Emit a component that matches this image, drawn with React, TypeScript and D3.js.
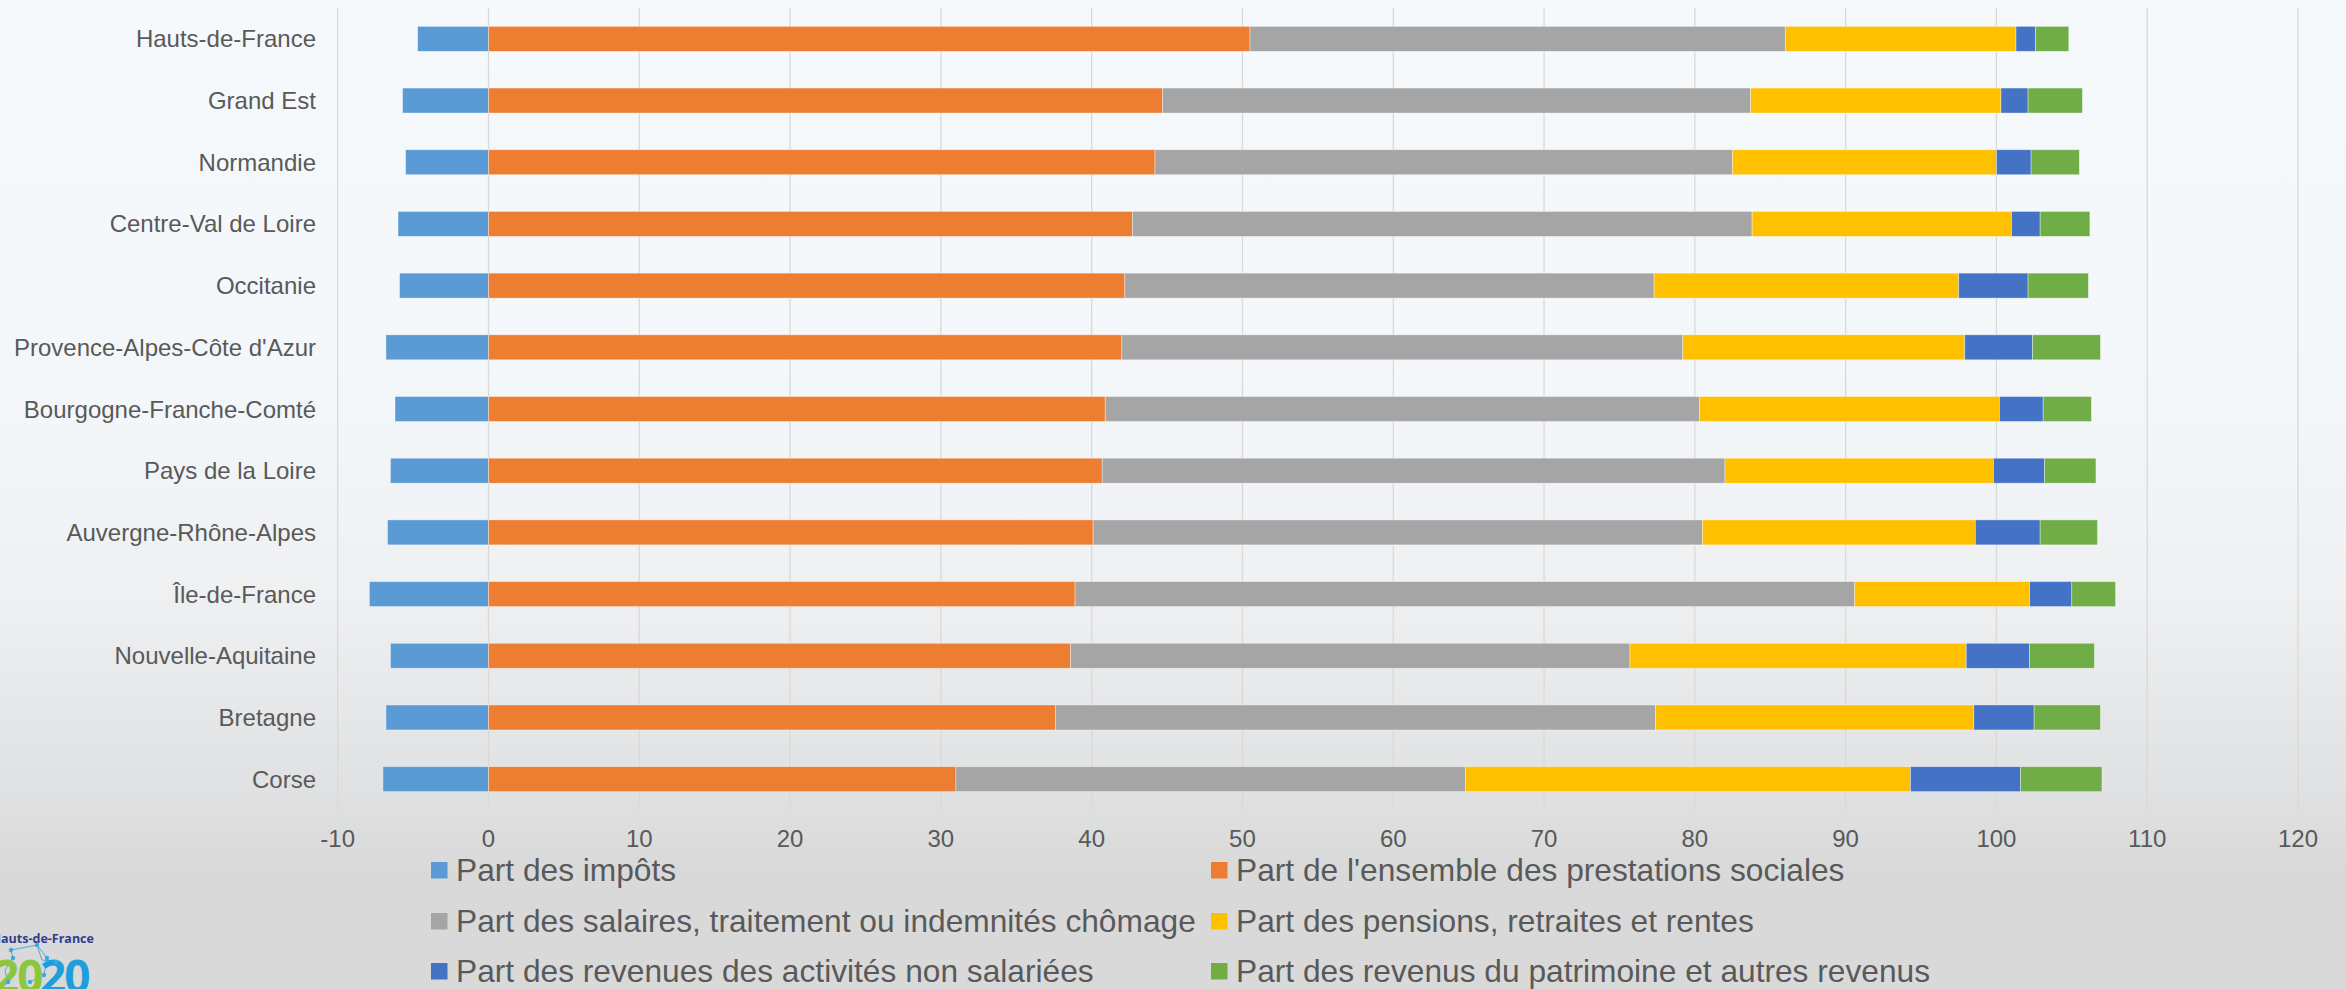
import React from "react";
import * as d3 from "d3";

const categories = [
  "Hauts-de-France",
  "Grand Est",
  "Normandie",
  "Centre-Val de Loire",
  "Occitanie",
  "Provence-Alpes-Côte d'Azur",
  "Bourgogne-Franche-Comté",
  "Pays de la Loire",
  "Auvergne-Rhône-Alpes",
  "Île-de-France",
  "Nouvelle-Aquitaine",
  "Bretagne",
  "Corse",
];

const impots = [-4.7, -5.7, -5.5, -6.0, -5.9, -6.8, -6.2, -6.5, -6.7, -7.9, -6.5, -6.8, -7.0];
const prestations = [50.5, 44.7, 44.2, 42.7, 42.2, 42.0, 40.9, 40.7, 40.1, 38.9, 38.6, 37.6, 31.0];
const salaires = [35.5, 39.0, 38.3, 41.1, 35.1, 37.2, 39.4, 41.3, 40.4, 51.7, 37.1, 39.8, 33.8];
const pensions = [15.3, 16.6, 17.5, 17.2, 20.2, 18.7, 19.9, 17.8, 18.1, 11.6, 22.3, 21.1, 29.5];
const nonSalariees = [1.3, 1.8, 2.3, 1.9, 4.6, 4.5, 2.9, 3.4, 4.3, 2.8, 4.2, 4.0, 7.3];
const patrimoine = [2.2, 3.6, 3.2, 3.3, 4.0, 4.5, 3.2, 3.4, 3.8, 2.9, 4.3, 4.4, 5.4];

const xTicks = [-10, 0, 10, 20, 30, 40, 50, 60, 70, 80, 90, 100, 110, 120];

const seriesNames = [
  "Part des impôts",
  "Part de l'ensemble des prestations sociales",
  "Part des salaires, traitement ou indemnités chômage",
  "Part des pensions, retraites et rentes",
  "Part des revenues des activités non salariées",
  "Part des revenus du patrimoine et autres revenus",
];
const seriesColors = ["#5b9bd5", "#ed7d31", "#a5a5a5", "#ffc000", "#4472c4", "#70ad47"];

const W = 2346;
const H = 989;
const TEXT = "#595959";
const FONT = "'Liberation Sans', Arial, sans-serif";

export default function App() {
  const x = d3.scaleLinear().domain([-10, 120]).range([337.7, 2298]);
  const y = d3
    .scaleBand<string>()
    .domain(categories)
    .range([8, 810])
    .paddingInner(0.595)
    .paddingOuter(0.2975);

  const keys = ["prestations", "salaires", "pensions", "nonSalariees", "patrimoine"];
  const table = categories.map((c, i) => ({
    cat: c,
    impots: impots[i],
    prestations: prestations[i],
    salaires: salaires[i],
    pensions: pensions[i],
    nonSalariees: nonSalariees[i],
    patrimoine: patrimoine[i],
  }));
  const stacked = d3.stack<any>().keys(keys)(table);

  const bw = y.bandwidth();

  // legend layout
  const legendCols = [431, 1211];
  const legendRows = [870, 921, 971];
  const legendFont = 31.7;

  return (
    <svg
      width={W}
      height={H}
      style={{ position: "absolute", left: 0, top: 0, display: "block" }}
      fontFamily={FONT}
    >
      <defs>
        <linearGradient id="bg" x1="0" y1="0" x2="0" y2="1">
          <stop offset="0" stopColor="#f6f9fc" />
          <stop offset="0.4" stopColor="#f4f7fa" />
          <stop offset="0.6" stopColor="#eef0f2" />
          <stop offset="0.8" stopColor="#e0e1e2" />
          <stop offset="0.88" stopColor="#d9d9d9" />
          <stop offset="1" stopColor="#d9d9d9" />
        </linearGradient>
      </defs>
      <rect x={0} y={0} width={W} height={H} fill="url(#bg)" />

      {/* gridlines */}
      {xTicks.map((t) => (
        <line
          key={"g" + t}
          x1={x(t)}
          x2={x(t)}
          y1={8}
          y2={810}
          stroke="#d9d9d9"
          strokeWidth={1.3}
        />
      ))}

      {/* negative bars */}
      {table.map((d) => (
        <rect
          key={"n" + d.cat}
          x={x(d.impots)}
          y={y(d.cat)!}
          width={x(0) - x(d.impots)}
          height={bw}
          fill={seriesColors[0]}
          stroke="#ffffff"
          strokeOpacity={0.5}
          strokeWidth={0.75}
        />
      ))}

      {/* positive stacked bars */}
      {stacked.map((s, si) => (
        <g key={s.key} fill={seriesColors[si + 1]}>
          {s.map((seg, i) => (
            <rect
              key={i}
              x={x(seg[0])}
              y={y(categories[i])!}
              width={x(seg[1]) - x(seg[0])}
              height={bw}
              stroke="#ffffff"
              strokeOpacity={0.5}
              strokeWidth={0.75}
            />
          ))}
        </g>
      ))}

      {/* category labels */}
      {categories.map((c) => (
        <text
          key={"c" + c}
          x={316}
          y={y(c)! + bw / 2}
          textAnchor="end"
          dominantBaseline="central"
          fontSize={24}
          fill={TEXT}
        >
          {c}
        </text>
      ))}

      {/* tick labels */}
      {xTicks.map((t) => (
        <text
          key={"t" + t}
          x={x(t)}
          y={847}
          textAnchor="middle"
          fontSize={24}
          fill={TEXT}
        >
          {t}
        </text>
      ))}

      {/* legend */}
      {seriesNames.map((name, i) => {
        const col = i % 2;
        const row = Math.floor(i / 2);
        const lx = legendCols[col];
        const cy = legendRows[row];
        return (
          <g key={"l" + i}>
            <rect x={lx} y={cy - 8} width={16.5} height={16.5} fill={seriesColors[i]} />
            <text
              x={lx + 25}
              y={cy + 11}
              fontSize={legendFont}
              fill={TEXT}
            >
              {name}
            </text>
          </g>
        );
      })}

      {/* logo */}
      <g>
        <g stroke="#3aa9e0" strokeWidth={1} fill="none" opacity={0.9}>
          <polyline points="11,950 37,945 47,958 44,975 30,982" />
          <polyline points="11,950 13,958 5,970 8,982" />
          <polyline points="37,945 42,960 56,962" />
        </g>
        <text
          x={-8.5}
          y={942.5}
          fontSize={12.5}
          fontWeight="bold"
          fill="#2d3e8c"
          fontFamily="'Open Sans', 'Liberation Sans', sans-serif"
        >
          Hauts-de-France
        </text>
        <text
          x={-7}
          y={993}
          fontSize={46}
          fontWeight="bold"
          fill="#8cc63e"
          letterSpacing={-2}
          fontFamily="'Open Sans', 'Liberation Sans', sans-serif"
        >
          20
        </text>
        <text
          x={40}
          y={993}
          fontSize={46}
          fontWeight="bold"
          fill="#1e9fdb"
          letterSpacing={-2}
          fontFamily="'Open Sans', 'Liberation Sans', sans-serif"
        >
          20
        </text>
        <g fill="#3aa9e0">
          {[
            [11, 950],
            [37, 945],
            [47, 958],
            [44, 975],
            [13, 958],
            [56, 962],
            [8, 982],
            [30, 982],
          ].map((p, i) => (
            <circle key={i} cx={p[0]} cy={p[1]} r={2.2} />
          ))}
        </g>
      </g>
    </svg>
  );
}
